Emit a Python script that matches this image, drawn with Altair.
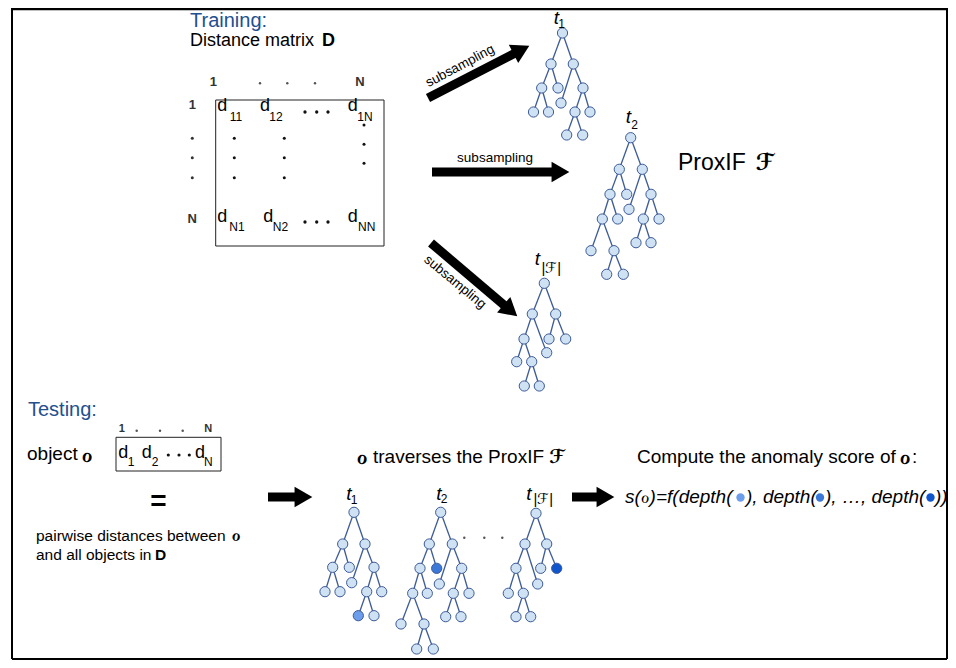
import math
import altair as alt
import pandas as pd

# ---------------- content ----------------
SECTION_TITLES = ["Training:", "Testing:"]
MATRIX_CAPTION = ["Distance matrix", "D"]
INDEX_LABELS = ["1", "N", "1", "N"]
MATRIX_SUBS = ["11", "12", "1N", "N1", "N2", "NN"]
OBJECT_SUBS = ["1", "2", "N"]
TEST_INDEX = ["1", "N"]
ARROW_LABEL = "subsampling"
TREE_SUBS = ["1", "2", "|\u2131|", "1", "2", "|\u2131|"]
OBJ = "\u2134"
FOREST = "\u2131"
TEXT_LINES = ["object", "pairwise distances between", "and all objects in",
              "traverses the ProxIF", "Compute the anomaly score of", "ProxIF"]
FORMULA_PARTS = ["s(\u2134)=f(depth(", "), depth(", "), \u2026, depth(", "))"]
DEPTH_COLORS = ["#6d9eeb", "#3c78d8", "#1155cc"]

# ---------------- tree layout (pixel positions, parent index) ----------------
PAR_A = [-1, 0, 0, 1, 1, 2, 2, 3, 3, 5, 5, 9, 9]
PAR_B = [-1, 0, 0, 1, 1, 2, 2, 3, 3, 5, 5, 7, 7, 9, 9, 12, 12]
PAR_C = [-1, 0, 0, 1, 1, 2, 2, 3, 3, 8, 8]

T1_TOP_X = [562.5, 551, 573.3, 541.7, 558, 583, 561, 533.5, 548.5, 575, 590, 566.7, 582.7]
T1_TOP_Y = [33, 64, 64, 88, 88, 88, 103, 112, 112, 112, 112, 135, 135]
T2_TOP_X = [630.7, 619.3, 642.3, 610, 626.7, 651, 629, 602.3, 617.7, 643.3, 659, 591, 614, 636, 651, 606.7, 623.3]
T2_TOP_Y = [137.7, 169.3, 169.3, 194.3, 194.3, 194.3, 209.3, 219, 219, 219, 219, 250.7, 250.7, 242.7, 242.7, 274.3, 274.3]
TF_TOP_X = [544.3, 532.3, 555.7, 524, 546.7, 549, 565.7, 516.7, 531.7, 524.3, 539.3]
TF_TOP_Y = [283.3, 314, 314, 339, 352.7, 339, 339, 361.7, 361.7, 386, 386]
T1_TEST_X = [354, 342.7, 365, 332.7, 349.3, 374, 351.7, 325, 340, 366.7, 381.7, 358.3, 374]
T1_TEST_Y = [512.3, 544, 544, 567.3, 567.3, 567.3, 582.7, 591.7, 591.7, 591.7, 591.7, 615.7, 615.7]
T2_TEST_X = [440.7, 429.3, 452.3, 420, 436.7, 461.7, 439.3, 412.7, 427.3, 453.3, 469, 401, 424, 445.7, 461, 416.7, 433.3]
T2_TEST_Y = [512.3, 544, 544, 568.3, 568.3, 568.3, 584, 593.3, 593.3, 593.3, 593.3, 624, 624, 616.7, 616.7, 649, 649]
TF_TEST_X = [536, 525, 546.7, 516, 537.7, 540.7, 556.7, 508.3, 523.3, 516, 530.7]
TF_TEST_Y = [513.3, 544, 544, 568.3, 584, 568.3, 568.3, 593.3, 593.3, 616.7, 616.7]

TREES = [
    (T1_TOP_X, T1_TOP_Y, PAR_A, None),
    (T2_TOP_X, T2_TOP_Y, PAR_B, None),
    (TF_TOP_X, TF_TOP_Y, PAR_C, None),
    (T1_TEST_X, T1_TEST_Y, PAR_A, (11, 0)),
    (T2_TEST_X, T2_TEST_Y, PAR_B, (4, 1)),
    (TF_TEST_X, TF_TEST_Y, PAR_C, (6, 2)),
]
TREE_LABEL_POS = [(556.5, 17.5, 561.5, 24), (628.5, 117, 634.5, 125), (537.5, 259, 551, 268),
                  (349, 494, 354, 500), (439, 494, 444, 499), (529, 494, 543, 499)]

ARROWS = [(428, 98, 529, 46), (432, 172, 569, 172), (431, 243, 517, 316),
          (268, 497, 312, 497), (572, 497, 614, 497)]

FONT = "Liberation Sans, Arial, DejaVu Sans, sans-serif"
NODE_FILL = "#cfe2f3"
NODE_LINE = "#3d5b98"
BLUE_TITLE = "#22508f"

XS = alt.Scale(domain=[8, 948], nice=False, zero=False)
YS = alt.Scale(domain=[8, 660], nice=False, zero=False, reverse=True)


def X(f="x"):
    return alt.X(f + ":Q", scale=XS, axis=None)


def Y(f="y"):
    return alt.Y(f + ":Q", scale=YS, axis=None)


def text_layer(rows, weight="normal", style="normal", align="center"):
    df = pd.DataFrame(rows, columns=["text", "x", "y", "size", "color", "angle"])
    return alt.Chart(df).mark_text(font=FONT, fontWeight=weight, fontStyle=style,
                                   align=align, baseline="middle").encode(
        x=X(), y=Y(), text="text:N",
        size=alt.Size("size:Q", scale=None),
        color=alt.Color("color:N", scale=None),
        angle=alt.Angle("angle:Q", scale=None),
    )


layers = []

# frame
frame = pd.DataFrame({"x": [12, 12, 12, 947], "x2": [947, 947, 12, 947],
                      "y": [9, 659, 8, 8], "y2": [9, 659, 659, 659],
                      "w": [2.5, 2, 2, 2]})
layers.append(alt.Chart(frame).mark_rule(color="black").encode(
    x=X(), x2="x2:Q", y=Y(), y2="y2:Q", strokeWidth=alt.StrokeWidth("w:Q", scale=None)))

# boxes
boxes = pd.DataFrame({"x": [215.7, 116], "x2": [384, 221], "y": [100, 437.3], "y2": [246, 471]})
layers.append(alt.Chart(boxes).mark_rect(fillOpacity=0, stroke="#222", strokeWidth=1).encode(
    x=X(), x2="x2:Q", y=Y(), y2="y2:Q"))

# trees
edges, nodes = [], []
for xs, ys, par, hl in TREES:
    for i, p in enumerate(par):
        if p >= 0:
            edges.append({"x": xs[p], "y": ys[p], "x2": xs[i], "y2": ys[i]})
    for i in range(len(xs)):
        fill = NODE_FILL
        if hl is not None and hl[0] == i:
            fill = DEPTH_COLORS[hl[1]]
        nodes.append({"x": xs[i], "y": ys[i], "fill": fill})
layers.append(alt.Chart(pd.DataFrame(edges)).mark_rule(color=NODE_LINE, strokeWidth=1.3).encode(
    x=X(), y=Y(), x2="x2:Q", y2="y2:Q"))
layers.append(alt.Chart(pd.DataFrame(nodes)).mark_circle(size=105, opacity=1, stroke=NODE_LINE,
                                                          strokeWidth=1).encode(
    x=X(), y=Y(), fill=alt.Fill("fill:N", scale=None)))

# arrows
shafts, heads = [], []
for x0, y0, x1, y1 in ARROWS:
    dx, dy = x1 - x0, y1 - y0
    L = math.hypot(dx, dy)
    ux, uy = dx / L, dy / L
    shafts.append({"x": x0, "y": y0, "x2": x1 - 12 * ux, "y2": y1 - 12 * uy})
    heads.append({"x": x1 - 11.5 * ux, "y": y1 - 11.5 * uy,
                  "a": math.degrees(math.atan2(dx, -dy)) % 360})
layers.append(alt.Chart(pd.DataFrame(shafts)).mark_rule(color="black", strokeWidth=9, strokeCap="butt").encode(
    x=X(), y=Y(), x2="x2:Q", y2="y2:Q"))
layers.append(alt.Chart(pd.DataFrame(heads)).mark_point(shape="triangle", filled=True, color="black",
                                                         opacity=1, size=420).encode(
    x=X(), y=Y(), angle=alt.Angle("a:Q", scale=None)))

# small dots
FORMULA_DOT_X = [740.5, 820, 930.5]
dot_rows = []
for x in [234.3, 284.3]:
    for y in [138.3, 157.7, 177.7]:
        dot_rows.append((x, y, 9, "#111"))
for y in [138.3, 157.7, 177.7]:
    dot_rows.append((192.3, y, 9, "#333"))
for y in [125, 144.3, 163.3]:
    dot_rows.append((364, y, 9, "#111"))
for x in [305, 316.7, 328]:
    dot_rows.append((x, 112, 11, "#111"))
    dot_rows.append((x, 222, 11, "#111"))
for x in [260, 287.3, 315]:
    dot_rows.append((x, 83.3, 6, "#555"))
for x in [136.7, 160, 182.7]:
    dot_rows.append((x, 430.7, 6, "#555"))
for x in [168.3, 179, 189.3]:
    dot_rows.append((x, 455, 10, "#111"))
for x in [464.3, 484.3, 502.3]:
    dot_rows.append((x, 537.7, 6, "#555"))
for x, c in zip(FORMULA_DOT_X, DEPTH_COLORS):
    dot_rows.append((x, 497.5, 70, c))
dots = pd.DataFrame(dot_rows, columns=["x", "y", "s", "c"])
layers.append(alt.Chart(dots).mark_circle(opacity=1).encode(
    x=X(), y=Y(), size=alt.Size("s:Q", scale=None), color=alt.Color("c:N", scale=None)))

# ---------------- text ----------------
K = "black"
reg_left = [
    (SECTION_TITLES[0], 190, 21, 20, BLUE_TITLE, 0),
    (SECTION_TITLES[1], 28, 410, 20, BLUE_TITLE, 0),
    (MATRIX_CAPTION[0], 190, 41, 18, K, 0),
    (TEXT_LINES[0], 27, 454, 19, K, 0),
    (TEXT_LINES[1], 36, 536, 15.5, K, 0),
    (TEXT_LINES[2], 36, 555, 15.5, K, 0),
    (TEXT_LINES[3], 373, 457, 19, K, 0),
    (TEXT_LINES[4], 637, 457, 19, K, 0),
    (":", 912, 457, 19, K, 0),
    (TEXT_LINES[5], 678, 163, 23, K, 0),
]
layers.append(text_layer(reg_left, align="left"))

bold_left = [
    (MATRIX_CAPTION[1], 322, 41, 18, K, 0),
    (MATRIX_CAPTION[1], 155, 555, 15.5, K, 0),
]
layers.append(text_layer(bold_left, weight="bold", align="left"))

G = "#333"
bold_c = [
    (INDEX_LABELS[0], 213.3, 82, 13, G, 0),
    (INDEX_LABELS[1], 360, 82, 13, G, 0),
    (INDEX_LABELS[2], 192.3, 105, 13, G, 0),
    (INDEX_LABELS[3], 192.3, 219, 13, G, 0),
    (TEST_INDEX[0], 121.7, 429.3, 11, G, 0),
    (TEST_INDEX[1], 208.3, 429.3, 11, G, 0),
    ("=", 158.3, 502, 28, K, 0),
    (OBJ, 87, 455, 22, K, 0),
    (OBJ, 236, 536, 18, K, 0),
    (OBJ, 362, 457, 22, K, 0),
    (OBJ, 905, 457, 22, K, 0),
]
layers.append(text_layer(bold_c, weight="bold"))

mat_d_pos = [(222.3, 106), (265, 106), (352.7, 106), (222.3, 216.7), (268.3, 216.7), (352.7, 216.7)]
mat_sub_pos = [(236, 117.3), (276, 117.3), (365, 117.3), (237, 226.7), (280.5, 226.7), (366.7, 226.7)]
obj_d_pos = [(123.3, 453.3), (146.7, 453.3), (200, 453.3)]
obj_sub_pos = [(131, 461.7), (155, 461.7), (208.3, 461.7)]
reg_c = []
for (x, y) in mat_d_pos + obj_d_pos:
    reg_c.append(("d", x, y, 18, K, 0))
for s, (x, y) in zip(MATRIX_SUBS, mat_sub_pos):
    reg_c.append((s, x, y, 12, K, 0))
for s, (x, y) in zip(OBJECT_SUBS, obj_sub_pos):
    reg_c.append((s, x, y, 12, K, 0))
for s, (tx, ty, sx, sy) in zip(TREE_SUBS, TREE_LABEL_POS):
    if "|" not in s:
        reg_c.append((s, sx, sy, 12, K, 0))
reg_c += [
    (ARROW_LABEL, 460, 66, 13.5, K, 332),
    (ARROW_LABEL, 495, 158, 13.5, K, 0),
    (ARROW_LABEL, 455, 282, 13.5, K, 39.5),
]
layers.append(text_layer(reg_c))

ital_c = []
for s, (tx, ty, sx, sy) in zip(TREE_SUBS, TREE_LABEL_POS):
    ital_c.append(("t", tx, ty, 19, K, 0))
    if "|" in s:
        ital_c.append((s, sx, sy, 15, K, 0))
layers.append(text_layer(ital_c, style="italic"))

bold_ital = [
    (FOREST, 557, 457, 19, K, 0),
    (FOREST, 765, 163, 23, K, 0),
]
layers.append(text_layer(bold_ital, weight="bold", style="italic"))

formula_x = [625, 746, 825, 935]
formula = [(p, x, 497, 19, K, 0) for p, x in zip(FORMULA_PARTS, formula_x)]
layers.append(text_layer(formula, style="italic", align="left"))

chart = alt.layer(*layers).properties(
    width=940, height=652, padding=0, autosize=alt.AutoSizeParams(type="none")
).configure_view(stroke=None)

chart.save("out.html", embed_options={"renderer": "svg", "actions": False})
